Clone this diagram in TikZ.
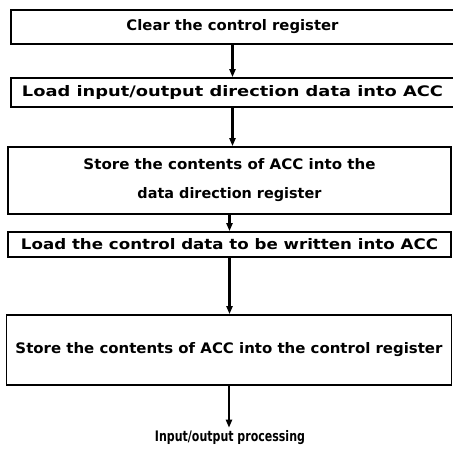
\documentclass[tikz,border=0pt]{standalone}
\usepackage{fontspec}
\usepackage{graphicx}
\setmainfont{DejaVu Sans}
\usetikzlibrary{arrows.meta}
\newcommand{\fitw}[2]{\resizebox{#1}{\height}{#2}}
\tikzset{
  stepbox/.style={draw=black, line width=1.7pt, rectangle, inner sep=0pt, align=center,
    font=\bfseries\fontsize{14.5}{29}\selectfont},
  arr/.style={line width=2.2pt, -{Triangle[length=8pt,width=6pt]}},
  plain/.style={inner sep=3pt, font=\bfseries\fontsize{14.5}{20}\selectfont}
}
\begin{document}
\begin{tikzpicture}[x=1pt,y=-1pt]
\useasboundingbox (0,0) rectangle (453,451);
\node[stepbox, minimum width=443pt, minimum height=34pt] (b1) at (232.5,27)
  {\fitw{212pt}{Clear the control register}};
\node[stepbox, minimum width=443pt, minimum height=29pt] (b2) at (232.5,92.5)
  {\fitw{421pt}{Load input/output direction data into ACC}};
\node[stepbox, minimum width=443pt, minimum height=67pt] (b3) at (229.5,180.5)
  {\fitw{292pt}{Store the contents of ACC into the}\\\fitw{184pt}{data direction register}};
\node[stepbox, minimum width=443pt, minimum height=25pt] (b4) at (229.5,244.5)
  {\fitw{417pt}{Load the control data to be written into ACC}};
\node[stepbox, minimum width=445pt, minimum height=70pt] (b5) at (229,350)
  {\fitw{427pt}{Store the contents of ACC into the control register}};
\node[plain] (out) at (230,438) {\fitw{150pt}{Input/output processing}};
\draw[arr] (b1.south) -- (b2.north);
\draw[arr] (b2.south) -- (b2.south |- b3.north);
\draw[arr] (b3.south) -- (b3.south |- b4.north);
\draw[arr] (b4.south) -- (b4.south |- b5.north);
\draw[arr] (b5.south) -- (b5.south |- out.north);
\end{tikzpicture}
\end{document}
